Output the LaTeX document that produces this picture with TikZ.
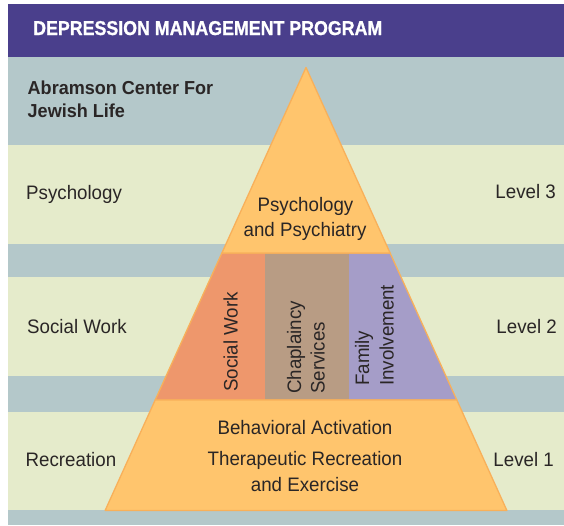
\documentclass[tikz,border=0pt]{standalone}
\usepackage{fontspec}
\setmainfont{Liberation Sans}[FakeStretch=0.96]
\newfontfamily\headfont{Liberation Sans Bold}[FakeStretch=0.89, FakeBold=1]
\definecolor{hdrpurple}{HTML}{4A3F8C}
\definecolor{bandgray}{HTML}{B4C8CA}
\definecolor{bandgreen}{HTML}{E5EBCB}
\definecolor{pyrfill}{HTML}{FFC56D}
\definecolor{pyrline}{HTML}{F8B05A}
\definecolor{salmon}{HTML}{EE976C}
\definecolor{brownc}{HTML}{B89C84}
\definecolor{lavender}{HTML}{A59DC8}
\definecolor{txt}{HTML}{2A2626}
\tikzset{
  lbl/.style={font=\fontsize{19.5}{22}\selectfont, text=txt, inner sep=0pt},
  lblb/.style={font=\bfseries\fontsize{18.8}{22}\selectfont, text=txt, inner sep=0pt},
  hdr/.style={font=\headfont\fontsize{20}{24}\selectfont, text=white, inner sep=0pt},
  piece/.style={draw=pyrline, line width=1.3pt, line join=round},
}
\begin{document}
\begin{tikzpicture}[x=1pt,y=-1pt]
\useasboundingbox (0,0) rectangle (564,525);
\fill[white] (0,0) rectangle (564,525);
% bands
\fill[hdrpurple] (8.3,4.3) rectangle (564,56.7);
\fill[bandgray] (8.3,56.7) rectangle (564,145);
\fill[bandgreen] (8.3,145) rectangle (564,244);
\fill[bandgray] (8.3,244) rectangle (564,277);
\fill[bandgreen] (8.3,277) rectangle (564,376);
\fill[bandgray] (8.3,376) rectangle (564,412);
\fill[bandgreen] (8.3,412) rectangle (564,510);
\fill[bandgray] (8.3,510) rectangle (564,525);
% pyramid
\coordinate (apex) at (306,67.5);
\coordinate (tl) at (221.9,253);
\coordinate (tr) at (390.1,253);
\coordinate (d1t) at (265,253);
\coordinate (d2t) at (349,253);
\coordinate (ml) at (155.2,400);
\coordinate (mr) at (456.8,400);
\coordinate (d1b) at (265,400);
\coordinate (d2b) at (349,400);
\coordinate (bl) at (105.1,510.5);
\coordinate (br) at (506.9,510.5);
\fill[salmon] (tl) -- (d1t) -- (d1b) -- (ml) -- cycle;
\fill[brownc] (d1t) -- (d2t) -- (d2b) -- (d1b) -- cycle;
\fill[lavender] (d2t) -- (tr) -- (mr) -- (d2b) -- cycle;
\draw[piece] (tl) -- (tr) -- (mr) -- (ml) -- cycle;
\draw[piece, fill=pyrfill] (apex) -- (tr) -- (tl) -- cycle;
\draw[piece, fill=pyrfill] (ml) -- (mr) -- (br) -- (bl) -- cycle;
% header
\node[hdr, anchor=base west] (title) at (33,35) {DEPRESSION MANAGEMENT PROGRAM};
\node[lblb, anchor=base west] (ab1) at (27.5,94) {Abramson Center For};
\node[lblb, anchor=base west] (ab2) at (27.5,117) {Jewish Life};
% left labels
\node[lbl, anchor=base west] (psyL) at (26,199.5) {Psychology};
\node[lbl, anchor=base west] (swL) at (27,333.3) {Social Work};
\node[lbl, anchor=base west] (recL) at (25.5,466) {Recreation};
% right labels
\node[lbl, anchor=base east] (lv3) at (556,198.5) {Level 3};
\node[lbl, anchor=base east] (lv2) at (557,333) {Level 2};
\node[lbl, anchor=base east] (lv1) at (554,466) {Level 1};
% pyramid texts
\node[lbl, anchor=base] (pp1) at (305.5,211.7) {Psychology};
\node[lbl, anchor=base] (pp2) at (305,236) {and Psychiatry};
\node[lbl, anchor=base] (ba) at (305,434.3) {Behavioral Activation};
\node[lbl, anchor=base] (trc) at (305,465.7) {Therapeutic Recreation};
\node[lbl, anchor=base] (ex) at (305,491) {and Exercise};
% rotated column texts
\node[lbl, rotate=90, anchor=base west] (sw) at (237.5,392) {Social Work};
\node[lbl, rotate=90, anchor=base west] (ch1) at (301,394) {Chaplaincy};
\node[lbl, rotate=90, anchor=base west] (ch2) at (324.5,394) {Services};
\node[lbl, rotate=90, anchor=base west] (fa1) at (369,386) {Family};
\node[lbl, rotate=90, anchor=base west] (fa2) at (393.5,386) {Involvement};
\end{tikzpicture}
\end{document}
